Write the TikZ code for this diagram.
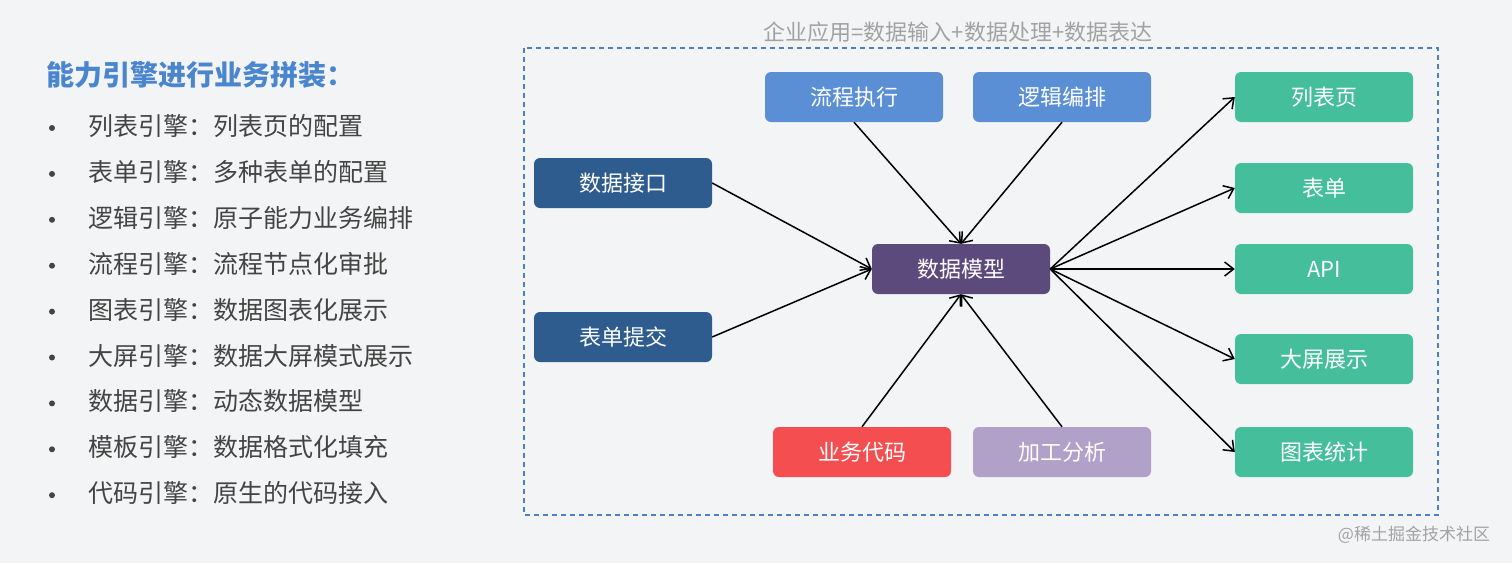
\documentclass[tikz,border=0pt]{standalone}
\usepackage{fontspec}
\setmainfont{Noto Sans CJK SC}
\usetikzlibrary{arrows.meta, positioning}
\definecolor{titleblue}{HTML}{4A86CF}
\definecolor{framblue}{HTML}{4A80C4}
\definecolor{flowblue}{HTML}{5A8FD6}
\definecolor{darkblue}{HTML}{2E5C8E}
\definecolor{modelpurple}{HTML}{5D4A7C}
\definecolor{codered}{HTML}{F44E51}
\definecolor{lavender}{HTML}{B1A0C7}
\definecolor{outgreen}{HTML}{45BE9B}
\definecolor{textgray}{HTML}{444444}
\definecolor{capgray}{HTML}{A2A2A2}
\definecolor{bggray}{HTML}{F3F4F5}

\begin{document}
\begin{tikzpicture}[
    x=1pt, y=-1pt,
    box/.style={rounded corners=6pt, minimum width=178pt, minimum height=50pt, inner sep=0pt, text=white, font=\fontsize{22}{24}\selectfont},
    item/.style={anchor=west, inner sep=0pt, text=textgray, font=\fontsize{25}{27}\selectfont},
    arr/.style={-{Straight Barb[length=9pt, width=14pt]}, line width=1.5pt}
]
\useasboundingbox (0,0) rectangle (1512,563);
\fill[bggray] (0,0) rectangle (1512,563);

% left list
\node[anchor=west, inner sep=0pt, text=titleblue, font=\fontsize{28}{30}\selectfont\bfseries] (title) at (46,75) {能力引擎进行业务拼装：};
\foreach \t [count=\i from 0] in {列表引擎：列表页的配置, 表单引擎：多种表单的配置, 逻辑引擎：原子能力业务编排, 流程引擎：流程节点化审批, 图表引擎：数据图表化展示, 大屏引擎：数据大屏模式展示, 数据引擎：动态数据模型, 模板引擎：数据格式化填充, 代码引擎：原生的代码接入} {
    \node[circle, fill=textgray, inner sep=0pt, minimum size=6pt] (dot\i) at (52,128+45.9*\i) {};
    \node[item] (txt\i) at (88,126+45.9*\i) {\t};
}

% frame
\node[text=capgray, inner sep=0pt, font=\fontsize{22}{24}\selectfont] (caption) at (958,32) {企业应用=数据输入+数据处理+数据表达};
\draw[framblue, line width=1.2pt, dash pattern=on 5pt off 4pt] (524,48) rectangle (1438,515);

% nodes
\node[box, fill=modelpurple] (model) at (961,269) {数据模型};
\node[box, fill=flowblue] (flow) at (854,97) {流程执行};
\node[box, fill=flowblue] (logic) at (1062,97) {逻辑编排};
\node[box, fill=darkblue] (api) at (623,183) {数据接口};
\node[box, fill=darkblue] (submit) at (623,337) {表单提交};
\node[box, fill=codered] (code) at (862,452) {业务代码};
\node[box, fill=lavender] (calc) at (1062,452) {加工分析};

\node[box, fill=outgreen] (list) at (1324,97) {列表页};
\node[box, fill=outgreen] (form) at (1324,188) {表单};
\node[box, fill=outgreen] (apiout) at (1324,269) {API};
\node[box, fill=outgreen] (screen) at (1324,359) {大屏展示};
\node[box, fill=outgreen] (chart) at (1324,452) {图表统计};

% connectors
\draw[arr] (api.east) -- (model.west);
\draw[arr] (submit.east) -- (model.west);
\draw[arr] (flow.south) -- (model.north);
\draw[arr] (logic.south) -- (model.north);
\draw[arr] (code.north) -- (model.south);
\draw[arr] (calc.north) -- (model.south);
\foreach \o in {list, form, apiout, screen, chart}
    \draw[arr] (model.east) -- (\o.west);

\node[text=capgray, inner sep=0pt, font=\fontsize{17}{19}\selectfont] (mark) at (1414,535) {@稀土掘金技术社区};
\end{tikzpicture}
\end{document}
